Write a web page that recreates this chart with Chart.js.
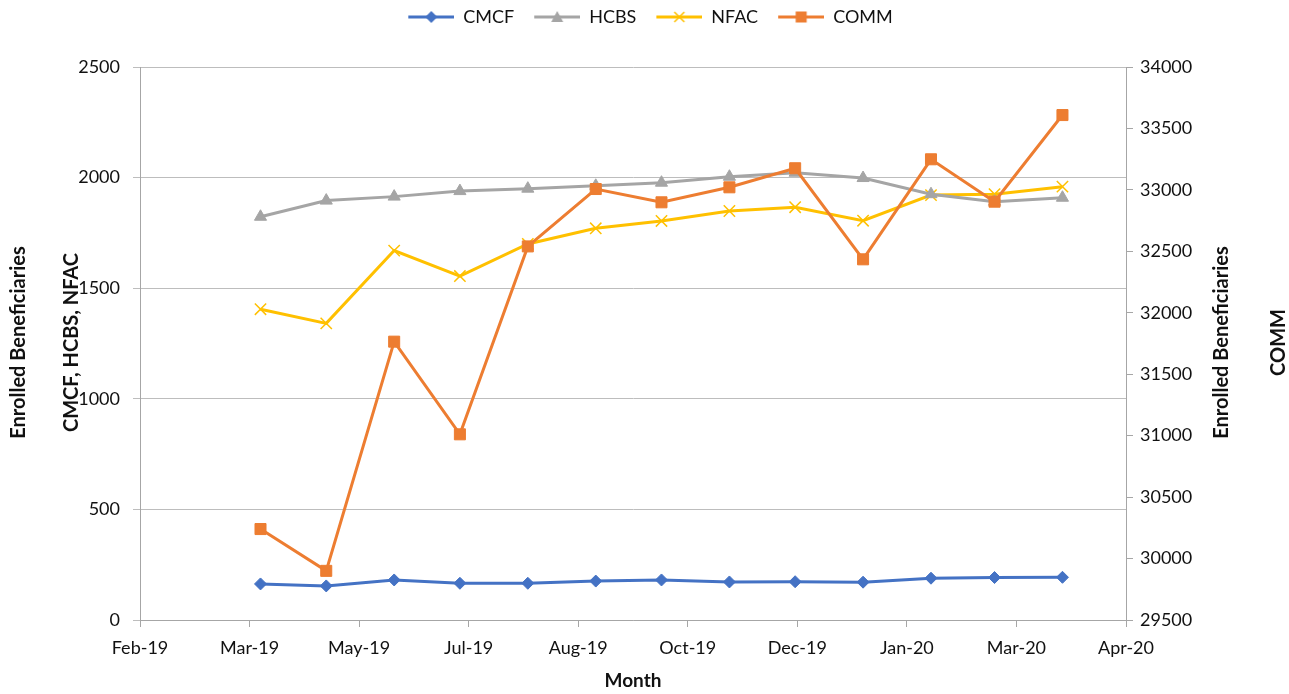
<!DOCTYPE html>
<html>
<head>
<meta charset="utf-8">
<script src="https://cdn.jsdelivr.net/npm/chart.js@4.4.0/dist/chart.umd.min.js"></script>
<style>
html, body { margin: 0; padding: 0; background: #fff; }
</style>
</head>
<body>
<canvas id="chart" width="1289" height="694"></canvas>
<script>
// month-end dates of the data points
const months = ['2019-03-31', '2019-04-30', '2019-05-31', '2019-06-30', '2019-07-31', '2019-08-31',
    '2019-09-30', '2019-10-31', '2019-11-30', '2019-12-31', '2020-01-31', '2020-02-29', '2020-03-31'];

// left axis series
const cmcf = [163, 154, 181, 166, 166, 176, 181, 172, 173, 171, 189, 192, 193];
const hcbs = [1823, 1896, 1914, 1939, 1950, 1963, 1977, 2004, 2022, 1998, 1925, 1891, 1909];
const nfac = [1405, 1341, 1670, 1555, 1700, 1771, 1804, 1849, 1866, 1805, 1921, 1925, 1959];
// right axis series
const comm = [30240, 29900, 31765, 31011, 32540, 33007, 32899, 33021, 33176, 32435, 33249, 32904, 33609];

// date axis labels (one every 50 days, starting 4 Feb 2019)
const xTickLabels = ['Feb-19', 'Mar-19', 'May-19', 'Jul-19', 'Aug-19', 'Oct-19', 'Dec-19', 'Jan-20', 'Mar-20', 'Apr-20'];

const FONT = 'Lato, "Open Sans", sans-serif';
const TEXT = '#111';

// Excel-style serial day number
function serial(iso) {
    const [y, m, d] = iso.split('-').map(Number);
    return (Date.UTC(y, m - 1, d) - Date.UTC(1899, 11, 30)) / 86400000;
}
function points(values) {
    return values.map((v, i) => ({ x: serial(months[i]), y: v }));
}

// little line+marker picture for the legend (left part transparent = gap between items)
function legendIcon(color, marker) {
    const c = document.createElement('canvas');
    c.width = 58;
    c.height = 16;
    const g = c.getContext('2d');
    g.strokeStyle = color;
    g.fillStyle = color;
    g.lineWidth = 3;
    g.beginPath();
    g.moveTo(12, 8);
    g.lineTo(58, 8);
    g.stroke();
    g.beginPath();
    const m = 35;
    if (marker === 'diamond') {
        g.moveTo(m, 2); g.lineTo(m + 6, 8); g.lineTo(m, 14); g.lineTo(m - 6, 8);
        g.fill();
    } else if (marker === 'triangle') {
        g.moveTo(m, 2); g.lineTo(m + 6, 13); g.lineTo(m - 6, 13);
        g.fill();
    } else if (marker === 'x') {
        g.lineWidth = 1.5;
        g.moveTo(m - 5, 3); g.lineTo(m + 5, 13);
        g.moveTo(m + 5, 3); g.lineTo(m - 5, 13);
        g.stroke();
    } else {
        g.fillRect(m - 5.5, 2.5, 11, 11);
    }
    return c;
}

const series = [
    { label: 'CMCF', data: cmcf, color: '#4472C4', style: 'rectRot', radius: 6, icon: 'diamond', axis: 'y', order: 1 },
    { label: 'HCBS', data: hcbs, color: '#A5A5A5', style: 'triangle', radius: 7, icon: 'triangle', axis: 'y', order: 2 },
    { label: 'NFAC', data: nfac, color: '#FFC000', style: 'crossRot', radius: 8, icon: 'x', axis: 'y', order: 3 },
    { label: 'COMM', data: comm, color: '#ED7D31', style: 'rect', radius: 7.8, icon: 'square', axis: 'y1', order: 0 }
];

// rotated axis titles, two per side: [x, text]
const sideTitleSpec = [
    [19, 'Enrolled Beneficiaries'],
    [72, 'CMCF, HCBS, NFAC'],
    [1222, 'Enrolled Beneficiaries'],
    [1279, 'COMM']
];
const sideTitles = {
    id: 'sideTitles',
    afterDraw(chart) {
        const { ctx, chartArea } = chart;
        const cy = (chartArea.top + chartArea.bottom) / 2 - 1;
        ctx.save();
        ctx.fillStyle = TEXT;
        ctx.textAlign = 'center';
        ctx.textBaseline = 'middle';
        ctx.font = 'bold 20px ' + FONT;
        sideTitleSpec.forEach(([x, t]) => {
            ctx.save();
            ctx.translate(x, cy);
            ctx.rotate(-Math.PI / 2);
            ctx.fillText(t, 0, 0);
            ctx.restore();
        });
        ctx.restore();
    }
};

// give the legend the whole band above the plot, items stay at its top
const legendBand = {
    id: 'legendBand',
    beforeLayout(chart) {
        const lg = chart.legend;
        if (lg && !lg.bandPatched) {
            const fit = lg.fit;
            lg.fit = function () {
                fit.call(this);
                this.height = 67;
            };
            lg.bandPatched = true;
        }
    }
};

const tickFont = { family: FONT, size: 18 };

const ctx = document.getElementById('chart').getContext('2d');
const chart = new Chart(ctx, {
    type: 'line',
    data: {
        datasets: series.map(s => ({
            label: s.label,
            data: points(s.data),
            borderColor: s.color,
            backgroundColor: s.color,
            borderWidth: 3,
            tension: 0,
            pointStyle: s.style,
            pointRadius: s.radius,
            pointBorderColor: s.color,
            pointBackgroundColor: s.color,
            pointBorderWidth: s.style === 'crossRot' ? 1.5 : 1,
            yAxisID: s.axis,
            order: s.order
        }))
    },
    options: {
        responsive: false,
        animation: false,
        plugins: {
            tooltip: { enabled: false },
            legend: {
                position: 'top',
                labels: {
                    usePointStyle: true,
                    pointStyleWidth: 58,
                    padding: 8,
                    color: TEXT,
                    font: { family: FONT, size: 18 },
                    generateLabels(chart) {
                        return series.map((s, i) => ({
                            text: s.label,
                            fillStyle: s.color,
                            strokeStyle: s.color,
                            lineWidth: 0,
                            pointStyle: legendIcon(s.color, s.icon),
                            fontColor: TEXT,
                            hidden: false,
                            datasetIndex: i
                        }));
                    }
                }
            }
        },
        scales: {
            x: {
                type: 'linear',
                min: 43500,
                max: 43950,
                afterFit(scale) { scale.height = 74; },
                ticks: {
                    stepSize: 50,
                    padding: 10,
                    maxRotation: 0,
                    autoSkip: false,
                    color: TEXT,
                    font: tickFont,
                    callback: (v, i) => xTickLabels[i]
                },
                grid: { drawOnChartArea: false, tickLength: 7, color: '#a6a6a6' },
                border: { color: '#a6a6a6' },
                title: {
                    display: true,
                    text: 'Month',
                    color: TEXT,
                    font: { family: FONT, size: 19, weight: 'bold' },
                    padding: { top: 0, bottom: 2 }
                }
            },
            y: {
                position: 'left',
                min: 0,
                max: 2500,
                afterFit(scale) { scale.width = 140; scale.paddingTop = 67; },
                ticks: { stepSize: 500, padding: 13, color: TEXT, font: tickFont, callback: v => String(v) },
                grid: { color: '#bdbdbd', tickLength: 7 },
                border: { color: '#a6a6a6' }
            },
            y1: {
                position: 'right',
                min: 29500,
                max: 34000,
                afterFit(scale) { scale.width = 163; },
                ticks: { stepSize: 500, padding: 7, color: TEXT, font: tickFont, callback: v => String(v) },
                grid: { drawOnChartArea: false, color: '#a6a6a6', tickLength: 7 },
                border: { color: '#a6a6a6' }
            }
        }
    },
    plugins: [sideTitles, legendBand]
});
</script>
</body>
</html>
